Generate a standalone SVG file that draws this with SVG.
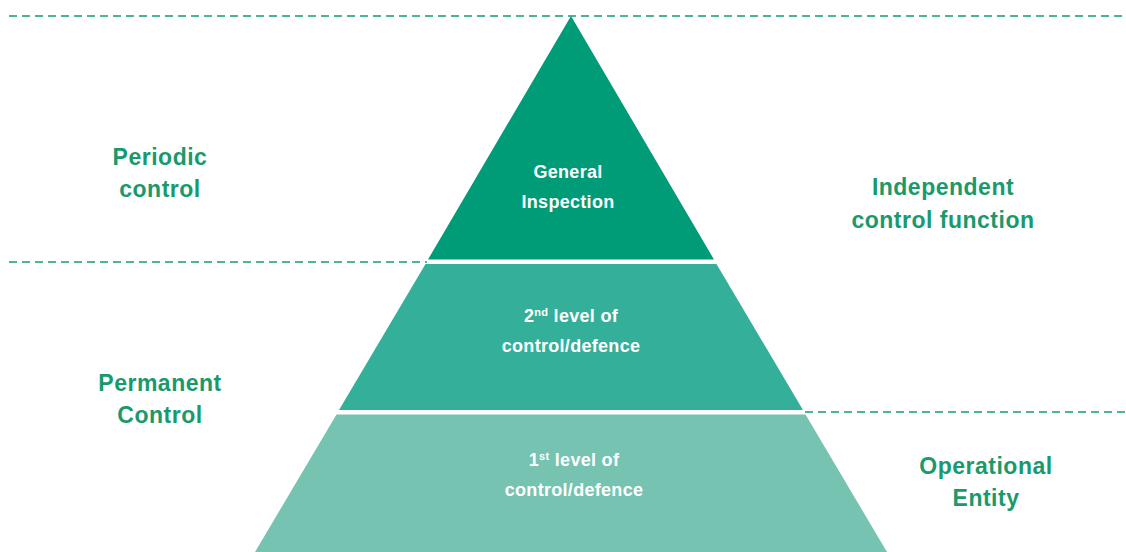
<svg xmlns="http://www.w3.org/2000/svg" width="1126" height="552" viewBox="0 0 1126 552">
<style>
.dash{stroke:#4DB39A;stroke-width:2;stroke-dasharray:8 5;fill:none}
.lbl{font-family:"Liberation Sans",Arial,sans-serif;font-weight:bold;font-size:23px;letter-spacing:0.5px;fill:#1A9A6C;text-anchor:middle}
.in{font-family:"Liberation Sans",Arial,sans-serif;font-weight:bold;font-size:18px;letter-spacing:0.3px;fill:#FFFFFF;text-anchor:middle}
.sup{font-size:11px;letter-spacing:0.3px}
</style>
<rect width="1126" height="552" fill="#FFFFFF"/>
<g id="connectors">
<line class="dash" x1="9" y1="16" x2="1126" y2="16"/>
<line class="dash" x1="9" y1="262" x2="427" y2="262"/>
<line class="dash" x1="805" y1="412" x2="1126" y2="412"/>
</g>
<g id="general-inspection">
<polygon points="571,16 714,259.5 428,259.5" fill="#009B77"/>
<text class="in" x="568" y="178">General</text>
<text class="in" x="568" y="208">Inspection</text>
</g>
<g id="second-level">
<polygon points="425.5,264 716.5,264 803,410 339,410" fill="#34B09A"/>
<text class="in" x="571" y="322">2<tspan class="sup" dy="-6">nd</tspan><tspan dy="6"> level of</tspan></text>
<text class="in" x="571" y="352">control/defence</text>
</g>
<g id="first-level">
<polygon points="336.5,414.5 805.5,414.5 887,552 255,552" fill="#76C3B2"/>
<text class="in" x="574" y="466">1<tspan class="sup" dy="-6">st</tspan><tspan dy="6"> level of</tspan></text>
<text class="in" x="574" y="496">control/defence</text>
</g>
<g id="periodic-control">
<text class="lbl" x="160" y="165">Periodic</text>
<text class="lbl" x="160" y="197">control</text>
</g>
<g id="permanent-control">
<text class="lbl" x="160" y="391">Permanent</text>
<text class="lbl" x="160" y="423">Control</text>
</g>
<g id="independent-control-function">
<text class="lbl" x="943" y="195">Independent</text>
<text class="lbl" x="943" y="228">control function</text>
</g>
<g id="operational-entity">
<text class="lbl" x="986" y="474">Operational</text>
<text class="lbl" x="986" y="506">Entity</text>
</g>
</svg>
